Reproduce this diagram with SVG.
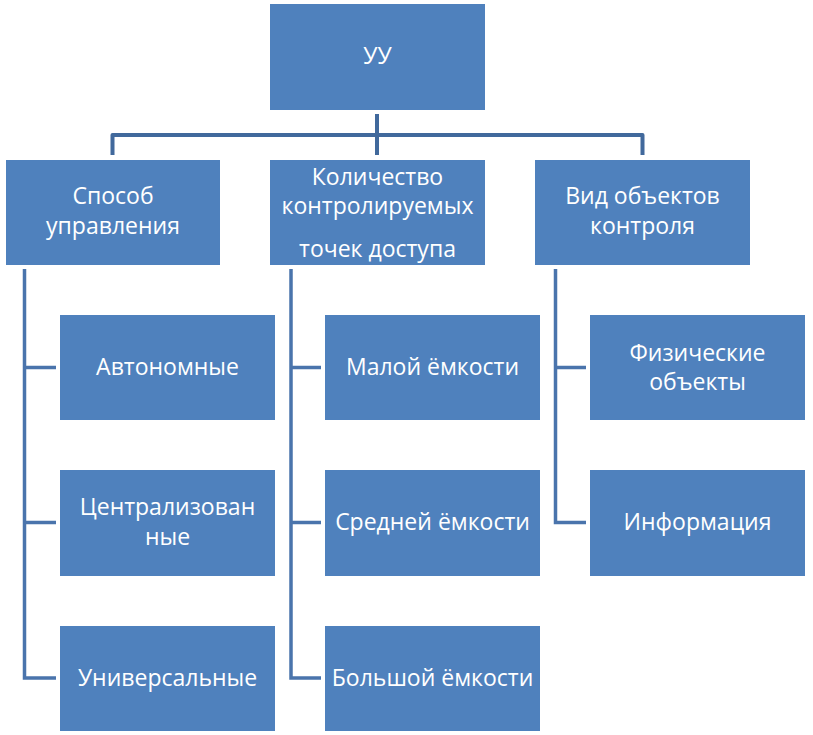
<svg xmlns="http://www.w3.org/2000/svg" width="813" height="735" viewBox="0 0 813 735">
<style>
.box{fill:#4F81BD;}
.lbl{font-family:"Open Sans","Noto Sans","Liberation Sans",sans-serif;font-size:23px;fill:#FFFFFF;text-anchor:middle;}
.conn{fill:none;stroke:#41699C;stroke-width:4;stroke-linejoin:round;}
.br{fill:none;stroke:#4A74AC;stroke-width:3.5;}
</style>
<rect width="813" height="735" fill="#FFFFFF"/>
<g id="connectors">
<path class="conn" d="M377,114 V155 M112.5,155 V135 H642.5 V155"/>
<path class="br" d="M24.5,269 V678 H56 M24.5,367.5 H56 M24.5,522.5 H56"/>
<path class="br" d="M291,269 V678 H321 M291,367.5 H321 M291,522.5 H321"/>
<path class="br" d="M555.5,269 V522.5 H586 M555.5,367.5 H586"/>
</g>
<g id="node-uu"><rect class="box" x="270" y="4" width="215" height="106"/><text class="lbl" x="377.5" y="64">УУ</text></g>
<g id="node-sposob"><rect class="box" x="6" y="160" width="214" height="105"/><text class="lbl" x="113" y="204">Способ</text><text class="lbl" x="113" y="234">управления</text></g>
<g id="node-kolichestvo"><rect class="box" x="270" y="160" width="215" height="105"/><text class="lbl" x="377.5" y="185">Количество</text><text class="lbl" x="377.5" y="214">контролируемых</text><text class="lbl" x="377.5" y="257">точек доступа</text></g>
<g id="node-vid"><rect class="box" x="535" y="160" width="215" height="105"/><text class="lbl" x="642.5" y="204">Вид объектов</text><text class="lbl" x="642.5" y="234">контроля</text></g>
<g id="node-avtonomnye"><rect class="box" x="60" y="315" width="215" height="105"/><text class="lbl" x="167.5" y="375">Автономные</text></g>
<g id="node-centr"><rect class="box" x="60" y="470" width="215" height="106"/><text class="lbl" x="167.5" y="515">Централизован</text><text class="lbl" x="167.5" y="545">ные</text></g>
<g id="node-univ"><rect class="box" x="60" y="626" width="215" height="105"/><text class="lbl" x="167.5" y="686">Универсальные</text></g>
<g id="node-maloy"><rect class="box" x="325" y="315" width="215" height="105"/><text class="lbl" x="432.5" y="375">Малой ёмкости</text></g>
<g id="node-sredney"><rect class="box" x="325" y="470" width="215" height="106"/><text class="lbl" x="432.5" y="530">Средней ёмкости</text></g>
<g id="node-bolshoy"><rect class="box" x="325" y="626" width="215" height="105"/><text class="lbl" x="432.5" y="686">Большой ёмкости</text></g>
<g id="node-fiz"><rect class="box" x="590" y="315" width="215" height="105"/><text class="lbl" x="697.5" y="361">Физические</text><text class="lbl" x="697.5" y="390">объекты</text></g>
<g id="node-info"><rect class="box" x="590" y="470" width="215" height="106"/><text class="lbl" x="697.5" y="530">Информация</text></g>
</svg>
